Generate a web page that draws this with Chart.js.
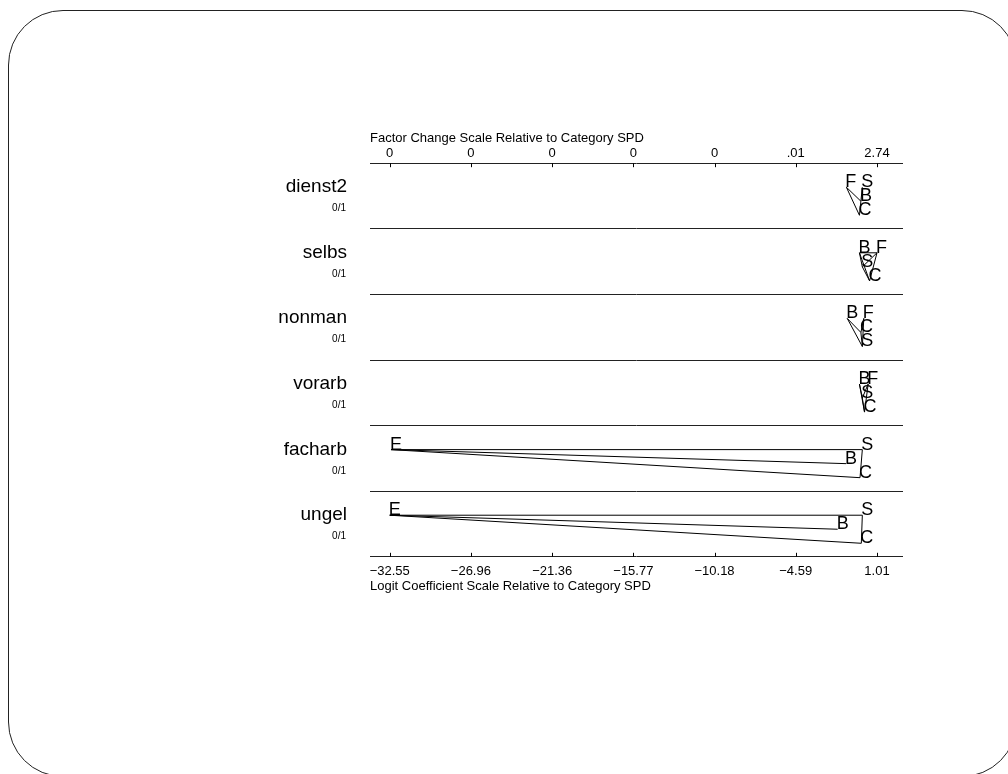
<!DOCTYPE html>
<html>
<head>
<meta charset="utf-8">
<script src="https://cdn.jsdelivr.net/npm/chart.js@4/dist/chart.umd.min.js"></script>
<style>
  html, body { margin: 0; padding: 0; background: #fff; overflow: hidden; }
  #frame {
    position: absolute; left: 8px; top: 10px; width: 1009px; height: 767px;
    box-sizing: border-box; border: 1.5px solid #222; border-radius: 55px;
  }
  #wrap { position: absolute; left: 0; top: 0; width: 1008px; height: 774px; }
</style>
</head>
<body>
<div id="frame"></div>
<div id="wrap"><canvas id="grafico"></canvas></div>
<script>
// variables (rows) and their coding
const variables = ["dienst2", "selbs", "nonman", "vorarb", "facharb", "ungel"];
const codings = ["0/1", "0/1", "0/1", "0/1", "0/1", "0/1"];

// axis ticks
const logitTicks = [-32.55, -26.96, -21.36, -15.77, -10.18, -4.59, 1.01];
const logitLabels = ["\u221232.55", "\u221226.96", "\u221221.36", "\u221215.77", "\u221210.18", "\u22124.59", "1.01"];
const factorLabels = ["0", "0", "0", "0", "0", ".01", "2.74"];

// logit coefficients relative to category SPD (S), one value per variable
const coefB = [-0.10, -0.20, -1.04, -0.20, -1.12, -1.70];
const coefC = [-0.20, 0.50, -0.10, 0.15, -0.16, -0.07];
const coefE = [null, null, null, null, -32.46, -32.55];
const coefF = [-1.10, 1.01, 0.10, 0.40, null, null];
const coefS = [0, 0, 0, 0, 0, 0];

// which letters are joined (not significantly different)
const joins = [
  [["F", "B"], ["F", "C"], ["S", "B"], ["B", "C"]],
  [["B", "F"], ["B", "S"], ["B", "C"], ["F", "S"], ["F", "C"], ["S", "C"]],
  [["B", "C"], ["B", "S"], ["F", "C"], ["F", "S"], ["C", "S"]],
  [["B", "S"], ["B", "C"], ["F", "S"], ["F", "C"], ["S", "C"]],
  [["E", "S"], ["E", "B"], ["E", "C"], ["S", "C"]],
  [["E", "S"], ["E", "B"], ["E", "C"], ["S", "C"]]
];

// stacking level of each letter inside its row (layout)
const levels = {
  B: [1, 0, 0, 0, 1, 1],
  C: [2, 2, 1, 2, 2, 2],
  E: [null, null, null, null, 0, 0],
  F: [0, 0, 0, 0, null, null],
  S: [0, 1, 2, 1, 0, 0]
};
const levelOffset = [0.366, 0.58, 0.794];
const coefs = { B: coefB, C: coefC, E: coefE, F: coefF, S: coefS };
const fonte = "'Liberation Sans', Arial, Helvetica, sans-serif";

function ponto(letra, i) {
  return { x: coefs[letra][i], y: i + levelOffset[levels[letra][i]] };
}

// line segments
const datasets = [];
joins.forEach((lista, i) => {
  lista.forEach(([a, b]) => {
    datasets.push({
      data: [ponto(a, i), ponto(b, i)],
      showLine: true,
      borderColor: "#000",
      borderWidth: 1,
      pointRadius: 0
    });
  });
});

// letters
Object.keys(coefs).forEach(letra => {
  const data = [];
  variables.forEach((v, i) => {
    if (coefs[letra][i] !== null) data.push(ponto(letra, i));
  });
  datasets.push({ letra, data, showLine: false, pointRadius: 0 });
});

const letrasPlugin = {
  id: "letras",
  afterDatasetsDraw(chart) {
    const ctx = chart.ctx;
    ctx.save();
    ctx.fillStyle = "#000";
    ctx.font = "18px " + fonte;
    ctx.textAlign = "left";
    ctx.textBaseline = "alphabetic";
    chart.data.datasets.forEach((ds, idx) => {
      if (!ds.letra) return;
      chart.getDatasetMeta(idx).data.forEach(p => ctx.fillText(ds.letra, p.x - 1, p.y));
    });
    ctx.restore();
  }
};

const rotulosPlugin = {
  id: "rotulos",
  afterDraw(chart) {
    const ctx = chart.ctx;
    const y = chart.scales.y;
    const area = chart.chartArea;
    ctx.save();
    ctx.fillStyle = "#000";
    ctx.textAlign = "right";
    ctx.textBaseline = "alphabetic";
    variables.forEach((nome, i) => {
      const topo = y.getPixelForValue(i);
      ctx.font = "19px " + fonte;
      ctx.fillText(nome, area.left - 23, topo + 29);
      ctx.font = "10px " + fonte;
      ctx.fillText(codings[i], area.left - 24, topo + 48);
    });
    // inward tick marks
    ctx.strokeStyle = "#000";
    ctx.lineWidth = 1;
    const xs = chart.scales.x;
    logitTicks.forEach(v => {
      const px = Math.round(xs.getPixelForValue(v)) + 0.5;
      ctx.beginPath();
      ctx.moveTo(px, area.bottom);
      ctx.lineTo(px, area.bottom - 4);
      ctx.moveTo(px, area.top);
      ctx.lineTo(px, area.top + 4);
      ctx.stroke();
    });
    ctx.restore();
  }
};

const eixoX = (pos, labels, titulo, pad, titlePad) => ({
  type: "linear",
  position: pos,
  min: -33.907,
  max: 2.80,
  afterBuildTicks: s => { s.ticks = logitTicks.map(v => ({ value: v })); },
  ticks: {
    callback: (v, i) => labels[i],
    color: "#000",
    font: { family: fonte, size: 13 },
    padding: pad,
    maxRotation: 0,
    autoSkip: false
  },
  grid: { display: false, drawTicks: false },
  border: { display: false },
  title: {
    display: true,
    text: titulo,
    align: "start",
    color: "#000",
    font: { family: fonte, size: 13 },
    padding: titlePad
  }
});

new Chart(document.getElementById("grafico"), {
  type: "scatter",
  data: { datasets },
  options: {
    responsive: true,
    maintainAspectRatio: false,
    animation: false,
    layout: { padding: { left: 370, right: 105, top: 131, bottom: 180 } },
    plugins: { legend: { display: false }, tooltip: { enabled: false } },
    scales: {
      x: eixoX("bottom", logitLabels, "Logit Coefficient Scale Relative to Category SPD", 7, { top: -8, bottom: 0 }),
      x2: eixoX("top", factorLabels, "Factor Change Scale Relative to Category SPD", 2, { top: 0, bottom: -3 }),
      y: {
        type: "linear",
        min: 0,
        max: 6,
        reverse: true,
        ticks: { display: false, stepSize: 1 },
        grid: { color: "#222", lineWidth: 1, drawTicks: false },
        border: { display: false }
      }
    }
  },
  plugins: [letrasPlugin, rotulosPlugin]
});
</script>
</body>
</html>
